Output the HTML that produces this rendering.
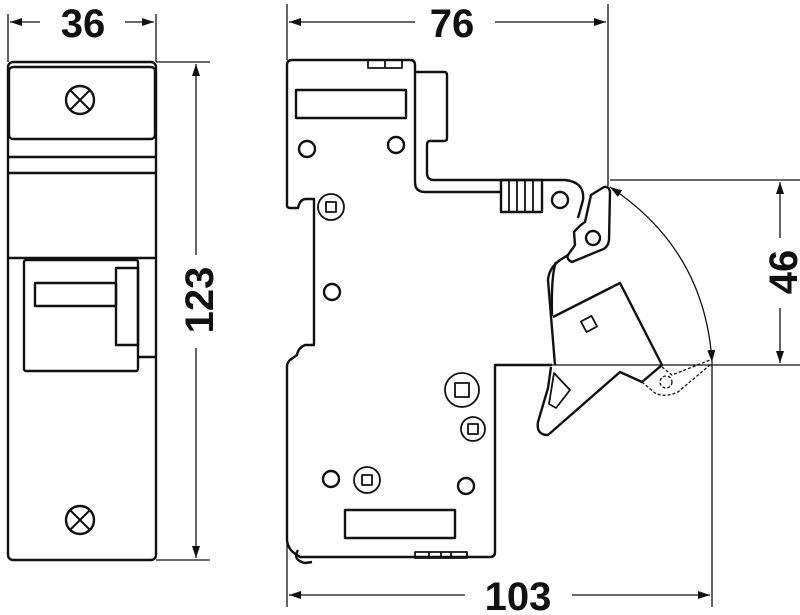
<!DOCTYPE html>
<html><head><meta charset="utf-8"><style>
html,body{margin:0;padding:0;background:#fff;}
svg{display:block;}
text{font-family:"Liberation Sans",sans-serif;font-weight:bold;font-size:40px;fill:#111;}
</style></head><body>
<svg width="800" height="615" viewBox="0 0 800 615" xmlns="http://www.w3.org/2000/svg">
<defs>
<marker id="a" viewBox="0 0 12 8" refX="12" refY="4" markerWidth="12" markerHeight="8" orient="auto-start-reverse" markerUnits="userSpaceOnUse"><path d="M0,0 L12,4 L0,8 Z" fill="#111"/></marker>
</defs>
<g fill="none" stroke="#111" stroke-width="1.3">
<!-- dimension lines -->
<line x1="8" y1="14" x2="8" y2="62"/><line x1="156" y1="14" x2="156" y2="62"/>
<line x1="10" y1="22" x2="40" y2="22" marker-start="url(#a)"/><line x1="125" y1="22" x2="154" y2="22" marker-end="url(#a)"/>
<line x1="156" y1="62" x2="210" y2="62"/><line x1="156" y1="560" x2="210" y2="560"/>
<line x1="196" y1="64" x2="196" y2="255" marker-start="url(#a)"/><line x1="196" y1="348" x2="196" y2="558" marker-end="url(#a)"/>
<line x1="287" y1="4" x2="287" y2="60"/><line x1="608" y1="4" x2="608" y2="186"/>
<line x1="289" y1="22" x2="415" y2="22" marker-start="url(#a)"/><line x1="495" y1="22" x2="606" y2="22" marker-end="url(#a)"/>
<line x1="287" y1="540" x2="287" y2="607"/><line x1="712" y1="362" x2="712" y2="607"/>
<line x1="289" y1="595" x2="465" y2="595" marker-start="url(#a)"/><line x1="572" y1="595" x2="710" y2="595" marker-end="url(#a)"/>
<line x1="610" y1="180" x2="800" y2="180"/><line x1="495" y1="365" x2="800" y2="365"/>
<line x1="780" y1="182" x2="780" y2="238" marker-start="url(#a)"/><line x1="780" y1="308" x2="780" y2="363" marker-end="url(#a)"/>
<path d="M610,187 Q705,250 712,362" marker-start="url(#a)" marker-end="url(#a)"/>
</g>
<text x="83" y="37" text-anchor="middle">36</text>
<text x="452" y="37" text-anchor="middle">76</text>
<text x="518" y="610" text-anchor="middle">103</text>
<text transform="translate(213,300) rotate(-90)" text-anchor="middle">123</text>
<text transform="translate(797,272) rotate(-90)" text-anchor="middle">46</text>

<g fill="none" stroke="#111" stroke-width="2.4" stroke-linejoin="round">
<!-- left view -->
<rect x="8" y="62" width="148" height="498" rx="5"/>
<rect x="9" y="67" width="146" height="72" rx="4"/>
<line x1="8" y1="157" x2="156" y2="157"/><line x1="8" y1="173" x2="156" y2="173"/>
<line x1="8" y1="258" x2="156" y2="258"/>
<rect x="24" y="260" width="114" height="111" rx="2"/>
<rect x="116" y="268" width="22" height="77"/>
<rect x="35" y="283" width="81" height="23"/>
<line x1="138" y1="357" x2="156" y2="357"/>
<circle cx="80" cy="100" r="14"/><path d="M70,90 L90,110 M90,90 L70,110" stroke-width="2"/>
<circle cx="80" cy="520" r="14"/><path d="M70,510 L90,530 M90,510 L70,530" stroke-width="2"/>

<!-- right view body -->
<path d="M292,60 L410,60 Q415,60 415,65 L415,72 L444,72 Q447,72 447,75 L447,138 Q447,141 444,141 L430,141 Q427,141 427,145 L427,173 Q427,180 434,180 L542,180 L565,180 Q585,182 583,200 L578,218"/>
<path d="M415,72 L415,182 Q415,192 425,192 L501,192"/>
<path d="M292,60 Q287,60 287,65 L287,205 Q287,208 290,208 L298,208 Q300,199 306,199 L314,199 L314,345 L305,345 Q298,348 297,355 L290,360 Q287,363 287,366 L287,540 Q288,550 297,555 L300,557 L490,557 Q495,557 495,552 L495,365 L552,365"/>
<path d="M298,550 Q292,560 305,563 L312,562"/>
<rect x="501" y="180" width="41" height="32"/>
<path d="M509,180 V212 M517,180 V212 M525,180 V212 M533,180 V212" stroke-width="1.8"/>
<rect x="368" y="60" width="34" height="8" stroke-width="1.8"/><line x1="385" y1="60" x2="385" y2="68" stroke-width="1.8"/>
<rect x="296" y="90" width="110" height="28"/>
<rect x="345" y="510" width="110" height="28"/>
<rect x="415" y="552" width="52" height="6" stroke-width="1.8"/>
<path d="M429,552 V558 M441,552 V558 M451,552 V558" stroke-width="1.8"/>
<circle cx="307" cy="149" r="8"/><circle cx="396" cy="145" r="8"/>
<circle cx="332" cy="292" r="8"/><circle cx="560" cy="200" r="8"/>
<circle cx="331" cy="479" r="8"/><circle cx="466" cy="486" r="8"/>
<circle cx="331" cy="207" r="13" stroke-width="1.8"/><rect x="326" y="202" width="10" height="10" stroke-width="1.8"/>
<circle cx="462" cy="390" r="17" stroke-width="1.8"/><rect x="455" y="383" width="14" height="14" stroke-width="1.8"/>
<circle cx="473" cy="429" r="12" stroke-width="1.8"/><rect x="468" y="424" width="10" height="10" stroke-width="1.8"/>
<circle cx="367" cy="480" r="13" stroke-width="1.8"/><rect x="362" y="475" width="10" height="10" stroke-width="1.8"/>

<!-- lever -->
<path d="M604,187 Q609,186 610,192 L609,240 Q608,248 601,250 L572,262 Q566,259 568,255 L575,245 L574,232 Q580,225 585,222 L591,195 Z"/>
<circle cx="593" cy="238" r="7"/>
<path d="M568,255 L560,260 Q549,268 548,280 L555,365"/>
<path d="M556,262 Q551,275 552,316"/>
<path d="M553,317 L620,283 L662,365 L642,382 L620,372 L548,435 Q536,435 538,422 L548,388 L551,367"/>
<rect x="583" y="318" width="12" height="12" transform="rotate(-28 589 324)" stroke-width="1.8"/>
<path d="M554,373 L570,390 L556,408 L549,404 Z" stroke-width="1.8"/>
</g>
<g fill="none" stroke="#111" stroke-width="1.3" stroke-dasharray="3,2">
<path d="M662,367 L672,375 L710,360"/>
<path d="M642,382 L655,393 Q665,398 678,392 L710,365"/>
<circle cx="666" cy="382" r="6"/>
</g>
</svg>
</body></html>
